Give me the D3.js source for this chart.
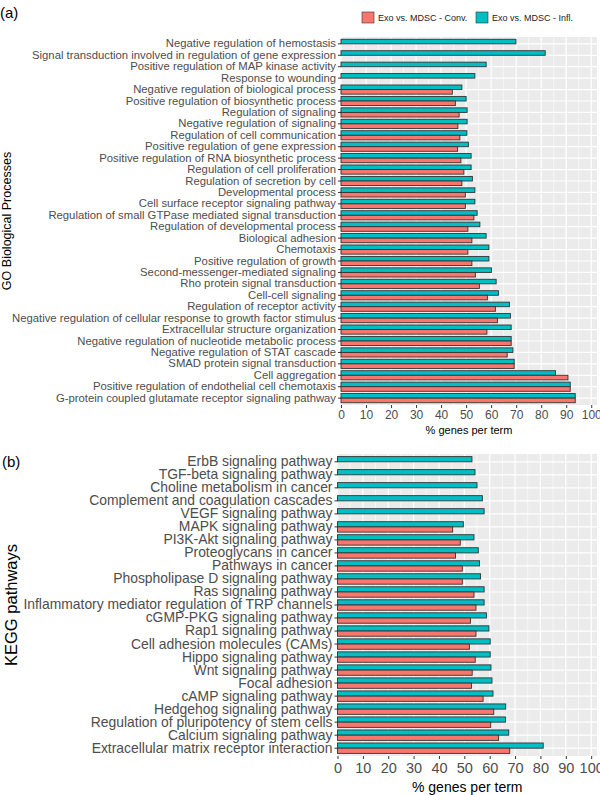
<!DOCTYPE html>
<html>
<head>
<meta charset="utf-8">
<script src="https://cdn.jsdelivr.net/npm/d3@7"></script>
<style>
  body { margin: 0; background: #fff; }
  text { font-family: "Liberation Sans", Arial, sans-serif; }
</style>
</head>
<body>
<script>
// GO terms, panel (a), top to bottom
var goTerms = [
  "Negative regulation of hemostasis",
  "Signal transduction involved in regulation of gene expression",
  "Positive regulation of MAP kinase activity",
  "Response to wounding",
  "Negative regulation of biological process",
  "Positive regulation of biosynthetic process",
  "Regulation of signaling",
  "Negative regulation of signaling",
  "Regulation of cell communication",
  "Positive regulation of gene expression",
  "Positive regulation of RNA biosynthetic process",
  "Regulation of cell proliferation",
  "Regulation of secretion by cell",
  "Developmental process",
  "Cell surface receptor signaling pathway",
  "Regulation of small GTPase mediated signal transduction",
  "Regulation of developmental process",
  "Biological adhesion",
  "Chemotaxis",
  "Positive regulation of growth",
  "Second-messenger-mediated signaling",
  "Rho protein signal transduction",
  "Cell-cell signaling",
  "Regulation of receptor activity",
  "Negative regulation of cellular response to growth factor stimulus",
  "Extracellular structure organization",
  "Negative regulation of nucleotide metabolic process",
  "Negative regulation of STAT cascade",
  "SMAD protein signal transduction",
  "Cell aggregation",
  "Positive regulation of endothelial cell chemotaxis",
  "G-protein coupled glutamate receptor signaling pathway"
];
var goConv = [0, 0, 0, 0, 44.5, 45.7, 47.2, 46.7, 47.5, 46.6, 47.9, 49.1, 48.3, 49.7, 49.7, 53.1,
  50.7, 52.3, 50.7, 52.3, 53.7, 55.3, 58.5, 61.7, 62.5, 58.3, 68, 66.4, 69.2, 90.7, 91.6, 93.6];
var goInfl = [69.9, 81.6, 58, 53.5, 48.3, 50, 50.4, 50.4, 50.3, 50.9, 52, 52, 52.5, 53.5, 53.5, 54.4,
  55.5, 58, 59.1, 59.1, 60.1, 62, 62.9, 67.3, 67.7, 68, 68, 68.7, 69.2, 85.7, 91.6, 93.6];

// KEGG pathways, panel (b), top to bottom
var keggTerms = [
  "ErbB signaling pathway",
  "TGF-beta signaling pathway",
  "Choline metabolism in cancer",
  "Complement and coagulation cascades",
  "VEGF signaling pathway",
  "MAPK signaling pathway",
  "PI3K-Akt signaling pathway",
  "Proteoglycans in cancer",
  "Pathways in cancer",
  "Phospholipase D signaling pathway",
  "Ras signaling pathway",
  "Inflammatory mediator regulation of TRP channels",
  "cGMP-PKG signaling pathway",
  "Rap1 signaling pathway",
  "Cell adhesion molecules (CAMs)",
  "Hippo signaling pathway",
  "Wnt signaling pathway",
  "Focal adhesion",
  "cAMP signaling pathway",
  "Hedgehog signaling pathway",
  "Regulation of pluripotency of stem cells",
  "Calcium signaling pathway",
  "Extracellular matrix receptor interaction"
];
var keggConv = [0, 0, 0, 0, 0, 45.4, 48.4, 46.5, 49.2, 49.2, 53.8, 54.6, 52.4, 54.6, 52.0, 54.3,
  53.1, 52.8, 57.4, 61.6, 60.4, 63.5, 67.9];
var keggInfl = [53.0, 54.2, 55.0, 57.1, 57.8, 49.6, 53.8, 55.5, 56.0, 56.4, 57.8, 57.8, 58.7, 59.7,
  60.2, 60.2, 60.5, 60.9, 61.3, 66.3, 66.2, 67.5, 81.1];

var seriesNames = ["Exo vs. MDSC - Conv.", "Exo vs. MDSC - Infl."];
var colors = ["#F8766D", "#00BFC4"];
var xTicks = d3.range(0, 101, 10);

var width = 600, height = 795;

var svg = d3.select("body").append("svg")
  .attr("width", width)
  .attr("height", height);

function drawPanel(o) {
  var x = d3.scaleLinear().domain([0, 102.3]).range([o.left, o.right]);
  var y = d3.scaleBand().domain(o.terms).range([o.top, o.bottom])
    .paddingInner(0).paddingOuter(0.1);
  var step = y.step();
  var g = svg.append("g");

  g.append("rect")
    .attr("x", o.left).attr("y", o.top)
    .attr("width", o.right - o.left).attr("height", o.bottom - o.top)
    .attr("fill", "#EBEBEB");

  // minor grid
  g.selectAll(".minor").data(d3.range(5, 101, 10)).enter().append("line")
    .attr("x1", function(d){return x(d);}).attr("x2", function(d){return x(d);})
    .attr("y1", o.top).attr("y2", o.bottom)
    .attr("stroke", "#fff").attr("stroke-width", 0.6);
  // major grid
  g.selectAll(".major").data(xTicks).enter().append("line")
    .attr("x1", function(d){return x(d);}).attr("x2", function(d){return x(d);})
    .attr("y1", o.top).attr("y2", o.bottom)
    .attr("stroke", "#fff").attr("stroke-width", 1.2);
  g.selectAll(".hgrid").data(o.terms).enter().append("line")
    .attr("x1", o.left).attr("x2", o.right)
    .attr("y1", function(d){return y(d) + step / 2;})
    .attr("y2", function(d){return y(d) + step / 2;})
    .attr("stroke", "#fff").attr("stroke-width", 1.2);

  // bars: infl (cyan) on top, conv (red) below
  var bh = step * 0.8 / 2;
  [o.infl, o.conv].forEach(function(vals, k) {
    g.selectAll(".bar" + k).data(o.terms).enter().append("rect")
      .attr("x", x(0))
      .attr("y", function(d){return y(d) + step / 2 - bh + k * bh;})
      .attr("width", function(d, i){return x(vals[i]) - x(0);})
      .attr("height", bh)
      .attr("fill", colors[1 - k])
      .attr("stroke", "#333")
      .attr("stroke-width", 0.9);
  });

  // y axis
  var yAxis = g.append("g")
    .attr("transform", "translate(" + o.left + ",0)")
    .call(d3.axisLeft(y).tickSize(3).tickPadding(2));
  yAxis.select(".domain").remove();
  yAxis.selectAll("line").attr("stroke", "#333");
  yAxis.selectAll("text")
    .attr("fill", "#4D4D4D")
    .style("font-size", o.labelSize + "px")
    .style("font-family", "Liberation Sans, Arial, sans-serif");

  // x axis
  var xAxis = g.append("g")
    .attr("transform", "translate(0," + o.bottom + ")")
    .call(d3.axisBottom(x).tickValues(xTicks).tickSize(3).tickPadding(o.tickPad));
  xAxis.select(".domain").remove();
  xAxis.selectAll("line").attr("stroke", "#333");
  xAxis.selectAll("text")
    .attr("fill", "#4D4D4D")
    .style("font-size", o.tickSize + "px")
    .style("font-family", "Liberation Sans, Arial, sans-serif");

  g.append("text")
    .attr("x", (o.left + o.right) / 2)
    .attr("y", o.xTitleY)
    .attr("text-anchor", "middle")
    .style("font-size", o.titleSize + "px")
    .text("% genes per term");

  g.append("text")
    .attr("transform", "translate(" + o.yTitleX + "," + (o.top + o.bottom) / 2 + ") rotate(-90)")
    .attr("text-anchor", "middle")
    .style("font-size", o.yTitleSize + "px")
    .text(o.yTitle);

  g.append("text")
    .attr("x", o.tagX).attr("y", o.tagY)
    .style("font-size", "15px")
    .text(o.tag);
}

drawPanel({
  terms: goTerms, conv: goConv, infl: goInfl,
  left: 341, right: 597, top: 37, bottom: 405,
  labelSize: 11.3, tickSize: 12, tickPad: 2, titleSize: 11,
  xTitleY: 434, yTitleX: 11, yTitle: "GO Biological Processes", yTitleSize: 12.5,
  tag: "(a)", tagX: 0, tagY: 18
});

drawPanel({
  terms: keggTerms, conv: keggConv, infl: keggInfl,
  left: 337.5, right: 597, top: 454, bottom: 756,
  labelSize: 13.9, tickSize: 14.5, tickPad: 4, titleSize: 14,
  xTitleY: 792, yTitleX: 17, yTitle: "KEGG pathways", yTitleSize: 16.5,
  tag: "(b)", tagX: 2, tagY: 467
});

// legend
var legend = svg.append("g").attr("transform", "translate(362,12)");
var legX = [0, 114];
seriesNames.forEach(function(name, i) {
  legend.append("rect")
    .attr("x", legX[i]).attr("y", 0)
    .attr("width", 12).attr("height", 11)
    .attr("fill", colors[i])
    .attr("stroke", "#333").attr("stroke-width", 0.6);
  legend.append("text")
    .attr("x", legX[i] + 16).attr("y", 9)
    .style("font-size", "9px")
    .attr("fill", "#222")
    .text(name);
});
</script>
</body>
</html>
